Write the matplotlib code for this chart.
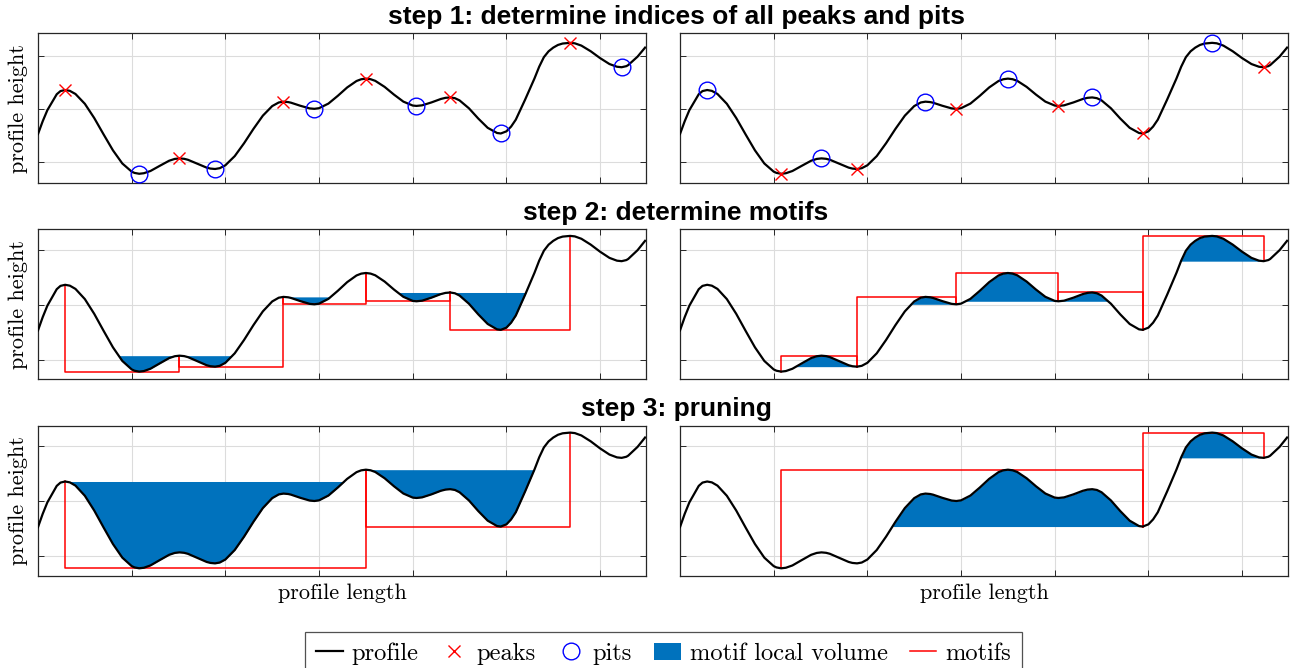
import numpy as np
import matplotlib.pyplot as plt
from matplotlib.lines import Line2D
from matplotlib.patches import Patch

# profile (x in grid units, y in grid units)
profile_x = [0.00, 0.05, 0.10, 0.20, 0.24, 0.29, 0.34, 0.40, 0.50, 0.60, 0.70,
             0.80, 0.90, 1.00, 1.03, 1.08, 1.13, 1.20, 1.30, 1.40, 1.46,
             1.51, 1.56, 1.60, 1.70, 1.80, 1.84, 1.89, 1.94, 2.00, 2.10,
             2.20, 2.30, 2.40, 2.50, 2.57, 2.62, 2.67, 2.70, 2.80, 2.90,
             2.95, 3.00, 3.10, 3.20, 3.30, 3.40, 3.45, 3.50, 3.55, 3.60,
             3.70, 3.80, 3.90, 4.00, 4.04, 4.10, 4.20, 4.30, 4.35, 4.40,
             4.45, 4.50, 4.60, 4.70, 4.80, 4.90, 4.94, 5.00, 5.05, 5.10, 5.20,
             5.30, 5.35, 5.40, 5.45, 5.50, 5.55, 5.60, 5.68, 5.73, 5.80, 5.90,
             6.00, 6.10, 6.18, 6.23, 6.28, 6.30, 6.40, 6.48]
profile_y = [-0.47, -0.23, -0.02, 0.28, 0.34, 0.36, 0.344, 0.285, 0.10, -0.168, -0.477,
             -0.778, -1.026, -1.18, -1.204, -1.22, -1.21, -1.168, -1.07, -0.974, -0.94,
             -0.93, -0.938, -0.956, -1.03, -1.104, -1.122, -1.13, -1.115, -1.06, -0.887,
             -0.643, -0.373, -0.124, 0.057, 0.125, 0.14, 0.1325, 0.121, 0.063, 0.013,
             0.005, 0.017, 0.104, 0.25, 0.408, 0.53, 0.563, 0.575, 0.564, 0.533,
             0.419, 0.273, 0.141, 0.067, 0.06, 0.071, 0.126, 0.191, 0.2125, 0.22,
             0.206, 0.164, 0.015, -0.179, -0.353, -0.451, -0.46, -0.42, -0.33, -0.20, 0.18,
             0.58, 0.80, 0.98, 1.09, 1.16, 1.21, 1.237, 1.25, 1.241, 1.198, 1.091,
             0.962, 0.85, 0.799, 0.79, 0.81, 0.83, 0.99, 1.16]

x_ticks = [1, 2, 3, 4, 5, 6]
y_ticks = [-1, 0, 1]
row_titles = ["step 1: determine indices of all peaks and pits",
              "step 2: determine motifs",
              "step 3: pruning"]
kept_peaks = [0, 3, 5]   # peaks left after pruning (left column)
kept_pits = [0, 4, 5]    # pits left after pruning (right column)

BLUE = "#0072BD"
DARK = "#262626"
CM = "cmr10"

x = np.array(profile_x)
y = np.array(profile_y)
peaks = [i for i in range(1, len(y) - 1) if y[i] > y[i - 1] and y[i] > y[i + 1]]
pits = [i for i in range(1, len(y) - 1) if y[i] < y[i - 1] and y[i] < y[i + 1]]


def motif(ax, a, b, hill):
    xs, ys = x[a:b + 1], y[a:b + 1]
    if hill:
        edge = ys.max()
        level = max(y[a], y[b])
        mask = ys > level
    else:
        edge = ys.min()
        level = min(y[a], y[b])
        mask = ys < level
    ax.fill_between(xs, ys, level, where=mask, interpolate=True,
                    color=BLUE, lw=0, zorder=2)
    ax.plot([x[a], x[a], x[b], x[b]], [y[a], edge, edge, y[b]],
            color="red", lw=1.1, zorder=3)


fig = plt.figure(figsize=(12.92, 6.68), dpi=100)
W, H = 1292, 668
cols = [38, 680]
rows = [(33.3, 183.3), (229.3, 379.3), (426, 576)]
ylims = [(-1.40, 1.43), (-1.36, 1.37), (-1.36, 1.37)]

for r, (top, bot) in enumerate(rows):
    for c, left in enumerate(cols):
        ax = fig.add_axes([left / W, 1 - bot / H, 608 / W, (bot - top) / H])
        ax.plot(x, y, color="black", lw=1.6, zorder=4)
        if r == 0:
            mk_peak, mk_pit = (peaks, pits) if c == 0 else (pits, peaks)
            ax.plot(x[mk_peak], y[mk_peak], "x", color="red", ms=9, mew=1.0, zorder=5)
            ax.plot(x[mk_pit], y[mk_pit], "o", mfc="none", mec="blue", ms=12, mew=1.0, zorder=5)
        elif r == 1:
            ends = peaks if c == 0 else pits
            for a, b in zip(ends[:-1], ends[1:]):
                motif(ax, a, b, hill=(c == 1))
        else:
            ends = [peaks[k] for k in kept_peaks] if c == 0 else [pits[k] for k in kept_pits]
            for a, b in zip(ends[:-1], ends[1:]):
                motif(ax, a, b, hill=(c == 1))
            ax.set_xlabel("profile length", fontfamily=CM, fontsize=16, labelpad=2)
        ax.set_xlim(0, 6.49)
        ax.set_ylim(*ylims[r])
        ax.set_xticks(x_ticks)
        ax.set_yticks(y_ticks)
        ax.set_xticklabels([])
        ax.set_yticklabels([])
        ax.tick_params(direction="in", length=4, width=0.7, color=DARK,
                       top=True, right=True)
        ax.grid(True, color="#dcdcdc", lw=0.8)
        ax.set_axisbelow(True)
        for s in ax.spines.values():
            s.set_color(DARK)
            s.set_linewidth(0.9)
        if c == 0:
            ax.set_ylabel("profile height", fontfamily=CM, fontsize=16, labelpad=4)

for t, ty in zip(row_titles, [17, 213, 409]):
    fig.text(676 / W, 1 - ty / H, t, ha="center", va="center",
             fontfamily="Liberation Sans", fontweight="bold", fontsize=19)

handles = [Line2D([], [], color="black", lw=1.6),
           Line2D([], [], ls="none", marker="x", color="red", ms=9, mew=1.0),
           Line2D([], [], ls="none", marker="o", mfc="none", mec="blue", ms=12, mew=1.0),
           Patch(facecolor=BLUE, edgecolor="none"),
           Line2D([], [], color="red", lw=1.1)]
labels = ["profile", "peaks", "pits", "motif local volume", "motifs"]
leg = fig.legend(handles, labels, loc="lower center", bbox_to_anchor=(663.5 / W, -0.012),
                 ncol=5, frameon=True, fancybox=False, edgecolor=DARK,
                 prop={"family": CM, "size": 17.6}, handlelength=1.1,
                 handletextpad=0.35, columnspacing=0.9, borderpad=0.45,
                 borderaxespad=0.0)
leg.get_frame().set_linewidth(0.9)

fig.savefig("out.png", dpi=100)
